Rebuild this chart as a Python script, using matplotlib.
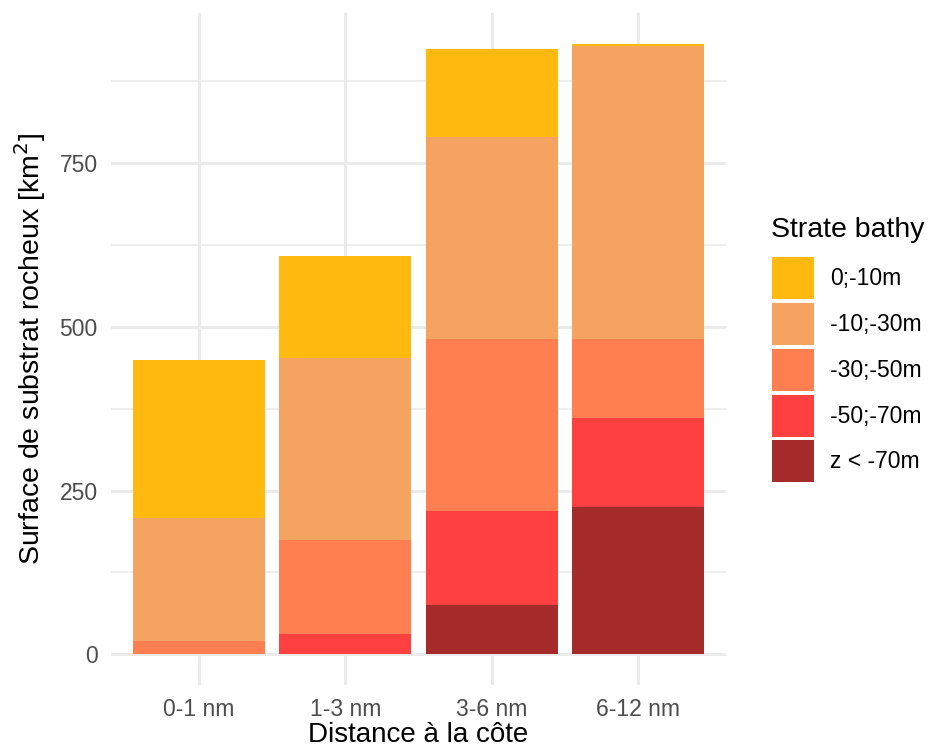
import matplotlib.pyplot as plt
import numpy as np

# Surface de substrat rocheux par distance a la cote et strate bathymetrique (km2)
distances = ['0-1 nm', '1-3 nm', '3-6 nm', '6-12 nm']
strates = ['0;-10m', '-10;-30m', '-30;-50m', '-50;-70m', 'z < -70m']
couleurs = ['#FFB90F', '#F4A460', '#FF7F50', '#FF4040', '#A52A2A']

s_0_10 = [240.8, 155.4, 135.2, 4.0]
s_10_30 = [188.4, 277.0, 307.1, 446.9]
s_30_50 = [20.4, 144.1, 262.8, 120.7]
s_50_70 = [0.0, 30.5, 143.5, 135.0]
s_70 = [0.0, 0.0, 75.4, 225.0]

y_ticks = [0, 250, 500, 750]
y_minor = [125, 375, 625, 875]

plt.rcParams['font.family'] = ['Liberation Sans', 'DejaVu Sans']

fig = plt.figure(figsize=(9.31, 7.49), dpi=100)
ax = fig.add_axes([111 / 931, 64 / 749, 615 / 931, 672 / 749])

x = np.arange(len(distances))
series = [s_0_10, s_10_30, s_30_50, s_50_70, s_70]

# empilement du bas (z < -70m) vers le haut (0;-10m)
bottom = np.zeros(len(distances))
handles = {}
for vals, lab, col in reversed(list(zip(series, strates, couleurs))):
    b = ax.bar(x, vals, width=0.9, bottom=bottom, color=col, linewidth=0, zorder=2)
    handles[lab] = b
    bottom += np.array(vals)

total_max = bottom.max()
ax.set_xlim(-0.6, len(distances) - 0.4)
ax.set_ylim(-0.05 * total_max, 1.05 * total_max)

ax.set_xticks(x)
ax.set_xticklabels(distances)
ax.set_yticks(y_ticks)
ax.set_yticks(y_minor, minor=True)
ax.tick_params(axis='both', which='both', length=0, labelsize=16.5, labelcolor='#4D4D4D')
ax.tick_params(axis='x', pad=9)
ax.tick_params(axis='y', pad=9.5)

ax.grid(True, which='major', color='#EBEBEB', linewidth=2.2, zorder=0)
ax.grid(True, which='minor', axis='y', color='#EBEBEB', linewidth=1.2, zorder=0)
ax.set_axisbelow(True)
for sp in ax.spines.values():
    sp.set_visible(False)

ax.set_xlabel('Distance à la côte', fontsize=20, labelpad=1)
ax.set_ylabel('Surface de substrat rocheux [km$^2$]', fontsize=20.5, labelpad=8)

# legende : titre place a part pour garder l'ecart avec les cles
fig.text(771 / 931, 1 - 237 / 749, 'Strate bathy', fontsize=20.5, va='baseline', ha='left')
fig.legend([handles[s] for s in strates], strates, loc='upper left',
           bbox_to_anchor=(772 / 931, 1 - 257 / 749), frameon=False,
           fontsize=16.5, handlelength=1.83, handleheight=2.44, labelspacing=0.17,
           handletextpad=0.72, borderpad=0, borderaxespad=0)

fig.savefig('out.png', dpi=100)
